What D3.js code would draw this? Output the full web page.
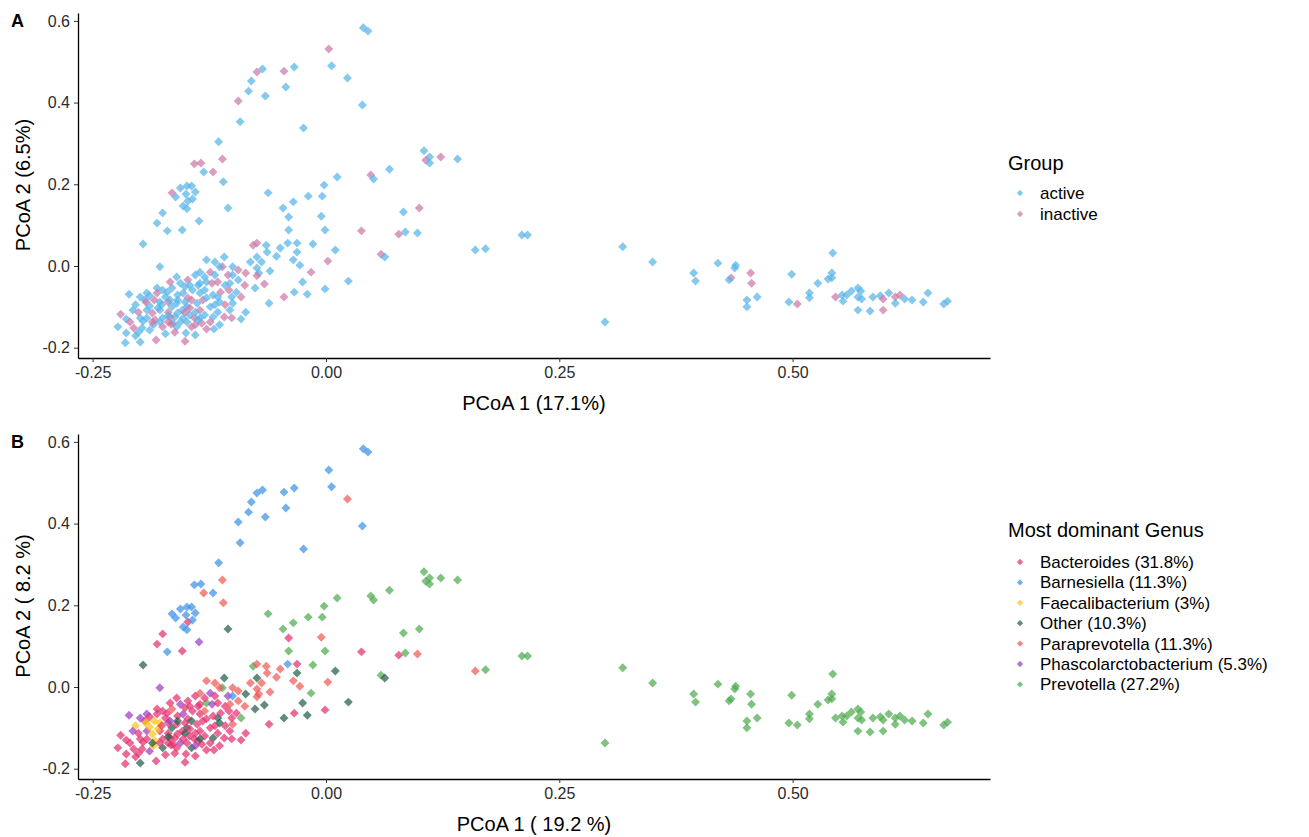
<!DOCTYPE html>
<html>
<head>
<meta charset="utf-8">
<script src="https://cdn.jsdelivr.net/npm/d3@7"></script>
<style>
body { margin: 0; background: #fff; }
svg { font-family: "Liberation Sans", Arial, sans-serif; }
</style>
</head>
<body>
<div id="chart"></div>
<script>
// categories
const groups = ["active", "inactive"];
const groupColors = ["#56B4E9", "#CC79A7"];
const genera = ["Bac", "Bar", "Fae", "Oth", "Par", "Pha", "Pre"];
const genusLabels = ["Bacteroides (31.8%)", "Barnesiella (11.3%)", "Faecalibacterium (3%)", "Other (10.3%)",
    "Paraprevotella (11.3%)", "Phascolarctobacterium (5.3%)", "Prevotella (27.2%)"];
const genusColors = ["#E3306F", "#3D92E8", "#FFC418", "#245E49", "#EE5A55", "#9B3FC4", "#4FAA4F"];

const xTicks = [-0.25, 0, 0.25, 0.5];
const yTicks = [-0.2, 0, 0.2, 0.4, 0.6];

// [PCoA1, PCoA2, group (0 active / 1 inactive), genus]
const samples = [
    [0.040, 0.583, 0, "Bar"], [0.045, 0.575, 0, "Bar"], [0.003, 0.531, 1, "Bar"], [0.006, 0.490, 0, "Bar"],
    [0.023, 0.460, 0, "Par"], [0.039, 0.394, 0, "Bar"], [-0.034, 0.487, 0, "Bar"], [-0.045, 0.477, 1, "Bar"],
    [-0.043, 0.438, 0, "Bar"], [-0.068, 0.482, 0, "Bar"], [-0.074, 0.475, 1, "Bar"], [-0.080, 0.453, 0, "Bar"],
    [-0.083, 0.428, 0, "Bar"], [-0.065, 0.416, 0, "Bar"], [-0.094, 0.404, 1, "Bar"], [-0.092, 0.353, 0, "Bar"],
    [-0.024, 0.338, 0, "Bar"], [-0.115, 0.304, 0, "Bar"], [-0.111, 0.262, 1, "Par"], [-0.141, 0.250, 1, "Bar"],
    [-0.134, 0.252, 1, "Bar"], [-0.131, 0.230, 0, "Par"], [-0.121, 0.230, 1, "Bar"], [-0.110, 0.206, 0, "Par"],
    [-0.165, 0.179, 1, "Bar"], [-0.156, 0.191, 0, "Bar"], [-0.149, 0.196, 0, "Bar"], [-0.144, 0.196, 0, "Bar"],
    [-0.161, 0.169, 0, "Bar"], [-0.150, 0.176, 0, "Bar"], [-0.140, 0.181, 0, "Bar"], [-0.148, 0.159, 0, "Bac"],
    [-0.143, 0.164, 0, "Bar"], [-0.153, 0.147, 0, "Bar"], [-0.149, 0.140, 0, "Bar"], [-0.136, 0.110, 0, "Pha"],
    [-0.175, 0.130, 0, "Bac"], [-0.181, 0.105, 0, "Bac"], [-0.170, 0.086, 0, "Bar"], [-0.154, 0.088, 0, "Bac"],
    [-0.196, 0.054, 0, "Oth"], [-0.105, 0.142, 0, "Oth"],
    [-0.062, 0.179, 0, "Pre"], [-0.046, 0.142, 0, "Pre"], [-0.035, 0.157, 0, "Pre"], [-0.019, 0.171, 0, "Pre"],
    [-0.004, 0.171, 0, "Pre"], [-0.002, 0.198, 0, "Pre"], [0.012, 0.218, 0, "Pre"], [0.048, 0.223, 1, "Pre"],
    [0.051, 0.213, 0, "Pre"], [0.068, 0.237, 0, "Pre"], [-0.040, 0.120, 0, "Bac"], [-0.005, 0.122, 0, "Par"],
    [-0.040, 0.088, 0, "Pre"], [-0.001, 0.088, 0, "Pre"], [0.083, 0.132, 0, "Pre"], [0.100, 0.142, 1, "Pre"],
    [0.038, 0.086, 1, "Bac"], [0.078, 0.078, 1, "Bac"], [0.085, 0.083, 0, "Pre"], [0.098, 0.081, 0, "Par"],
    [0.105, 0.282, 0, "Pre"], [0.111, 0.267, 0, "Pre"], [0.107, 0.259, 1, "Pre"], [0.111, 0.252, 0, "Pre"],
    [0.123, 0.267, 1, "Pre"], [0.141, 0.262, 0, "Pre"],
    [-0.078, 0.051, 1, "Pre"], [-0.074, 0.056, 1, "Par"], [-0.064, 0.051, 0, "Par"], [-0.063, 0.034, 0, "Par"],
    [-0.049, 0.044, 0, "Par"], [-0.053, 0.024, 0, "Par"], [-0.041, 0.056, 0, "Bar"], [-0.031, 0.056, 0, "Bac"],
    [-0.031, 0.034, 0, "Oth"], [-0.014, 0.054, 0, "Pre"], [0.010, 0.039, 0, "Oth"], [-0.035, 0.015, 0, "Par"],
    [-0.028, 0.002, 0, "Par"], [-0.074, 0.022, 0, "Oth"], [0.002, 0.012, 1, "Par"], [0.059, 0.029, 1, "Pre"],
    [0.063, 0.022, 0, "Oth"], [-0.016, -0.015, 1, "Pre"], [-0.074, -0.005, 0, "Par"], [-0.072, -0.017, 0, "Par"],
    [-0.074, -0.024, 1, "Par"], [-0.060, -0.012, 0, "Par"], [-0.086, -0.017, 1, "Oth"], [0.024, -0.037, 0, "Oth"],
    [-0.025, -0.039, 0, "Oth"], [-0.066, -0.044, 1, "Oth"], [-0.076, -0.054, 0, "Oth"], [-0.001, -0.056, 0, "Bac"],
    [-0.045, -0.076, 1, "Oth"], [-0.034, -0.064, 0, "Bac"], [-0.020, -0.069, 0, "Oth"], [-0.061, -0.091, 0, "Bac"],
    [-0.091, -0.076, 1, "Pre"], [-0.100, -0.091, 0, "Par"], [-0.086, -0.113, 0, "Bac"], [-0.091, -0.130, 0, "Bac"],
    [-0.101, -0.127, 1, "Bac"], [-0.109, -0.125, 1, "Bac"], [-0.121, -0.125, 0, "Oth"], [-0.120, -0.154, 0, "Bac"],
    [-0.128, -0.154, 1, "Bac"], [-0.128, 0.015, 0, "Par"], [-0.109, 0.022, 0, "Oth"], [-0.100, -0.002, 0, "Par"],
    [-0.111, -0.002, 1, "Pre"], [-0.124, -0.015, 1, "Pha"], [-0.105, -0.022, 1, "Pha"], [-0.100, -0.022, 0, "Bar"],
    [-0.178, -0.002, 0, "Pha"], [-0.211, -0.069, 0, "Pha"],
    [-0.223, -0.149, 0, "Bac"], [-0.220, -0.118, 1, "Bac"], [-0.214, -0.130, 0, "Bac"], [-0.214, -0.164, 0, "Bac"],
    [-0.215, -0.188, 0, "Bac"], [-0.199, -0.186, 0, "Oth"], [-0.182, -0.181, 1, "Bac"], [-0.151, -0.184, 1, "Bac"],
    [-0.150, -0.164, 0, "Bac"], [-0.206, -0.152, 1, "Bac"], [-0.201, -0.162, 0, "Bac"], [-0.204, -0.095, 0, "Fae"],
    [-0.201, -0.113, 1, "Bac"], [-0.192, -0.066, 0, "Pha"], [-0.181, -0.054, 0, "Bac"], [-0.181, -0.066, 1, "Bac"],
    [-0.170, -0.064, 0, "Bac"], [-0.192, -0.108, 0, "Pha"], [-0.186, -0.115, 1, "Fae"], [-0.192, -0.127, 0, "Bac"],
    [-0.196, -0.135, 0, "Bac"], [-0.183, -0.132, 1, "Fae"], [-0.189, -0.157, 0, "Pha"], [-0.175, -0.127, 0, "Bac"],
    [-0.175, -0.149, 1, "Oth"], [-0.178, -0.108, 0, "Bac"], [-0.184, -0.083, 1, "Fae"], [-0.169, -0.088, 1, "Bac"],
    [-0.165, -0.100, 0, "Oth"], [-0.160, -0.091, 0, "Bac"], [-0.159, -0.071, 0, "Bac"], [-0.153, -0.066, 0, "Pha"],
    [-0.148, -0.078, 1, "Bac"], [-0.144, -0.083, 1, "Oth"], [-0.149, -0.100, 0, "Oth"], [-0.154, -0.108, 0, "Bac"],
    [-0.162, -0.125, 0, "Bac"], [-0.167, -0.125, 1, "Bac"], [-0.164, -0.140, 0, "Bac"], [-0.156, -0.137, 0, "Pha"],
    [-0.160, -0.149, 0, "Bac"], [-0.146, -0.120, 0, "Bac"], [-0.151, -0.113, 1, "Oth"], [-0.166, -0.142, 1, "Bac"],
    [-0.140, -0.022, 0, "Bac"], [-0.148, -0.034, 1, "Bac"], [-0.160, -0.027, 0, "Bac"], [-0.156, -0.042, 0, "Pha"],
    [-0.151, -0.051, 0, "Bac"], [-0.135, -0.042, 0, "Bac"], [-0.128, -0.039, 0, "Pre"], [-0.122, -0.042, 1, "Pha"],
    [-0.119, -0.022, 0, "Bac"], [-0.116, -0.039, 1, "Bac"], [-0.114, -0.002, 0, "Par"], [-0.135, -0.066, 0, "Bac"],
    [-0.138, -0.091, 0, "Bac"], [-0.132, -0.083, 1, "Bac"], [-0.128, -0.078, 0, "Bac"], [-0.135, -0.108, 1, "Bac"],
    [-0.124, -0.100, 0, "Bac"], [-0.119, -0.095, 0, "Bac"], [-0.113, -0.064, 1, "Bac"], [-0.116, -0.076, 0, "Oth"],
    [-0.101, -0.076, 0, "Bac"], [-0.133, -0.140, 1, "Bac"], [-0.141, -0.127, 1, "Bac"], [-0.149, -0.137, 0, "Bac"],
    [-0.144, -0.149, 1, "Oth"], [-0.172, -0.076, 0, "Bac"], [-0.165, -0.054, 0, "Par"], [-0.143, -0.059, 0, "Bac"],
    [-0.130, -0.059, 0, "Par"], [-0.121, -0.071, 0, "Bac"], [-0.108, -0.047, 0, "Bac"], [-0.151, -0.088, 0, "Bac"],
    [-0.178, -0.137, 0, "Bac"], [-0.199, -0.127, 0, "Bac"], [-0.207, -0.108, 0, "Pha"], [-0.194, -0.083, 0, "Bac"],
    [-0.189, -0.098, 0, "Fae"], [-0.180, -0.103, 0, "Fae"], [-0.193, -0.088, 1, "Fae"], [-0.185, -0.144, 0, "Fae"],
    [-0.178, -0.088, 0, "Fae"],
    [-0.189, -0.073, 0, "Bac"], [-0.176, -0.095, 0, "Bac"], [-0.169, -0.113, 1, "Bac"], [-0.159, -0.115, 0, "Bac"],
    [-0.153, -0.127, 0, "Bac"], [-0.146, -0.103, 1, "Bac"], [-0.140, -0.113, 0, "Bac"], [-0.137, -0.132, 0, "Bac"],
    [-0.130, -0.120, 0, "Bac"], [-0.124, -0.137, 1, "Bac"], [-0.116, -0.113, 0, "Bac"], [-0.108, -0.095, 1, "Bac"],
    [-0.103, -0.108, 0, "Bac"], [-0.096, -0.064, 0, "Bac"], [-0.104, -0.059, 1, "Bac"], [-0.137, -0.047, 0, "Bac"],
    [-0.130, -0.027, 0, "Bac"], [-0.146, -0.047, 0, "Bac"], [-0.167, -0.039, 1, "Bac"], [-0.175, -0.059, 0, "Bac"],
    [-0.197, -0.152, 0, "Bac"], [-0.210, -0.137, 1, "Bac"], [-0.204, -0.171, 0, "Bac"], [-0.172, -0.166, 0, "Bac"],
    [-0.162, -0.162, 1, "Bac"], [-0.140, -0.169, 0, "Bac"], [-0.114, -0.144, 0, "Bac"], [-0.169, -0.137, 1, "Bac"],
    [-0.119, 0.010, 0, "Par"], [-0.094, -0.034, 0, "Par"], [-0.087, -0.047, 1, "Par"], [-0.081, 0.010, 0, "Par"],
    [-0.135, -0.015, 0, "Par"], [-0.094, -0.010, 1, "Par"], [-0.069, 0.010, 0, "Par"], [-0.103, -0.042, 0, "Par"],
    [-0.169, -0.122, 0, "Oth"], [-0.159, -0.083, 0, "Oth"], [-0.135, -0.127, 0, "Oth"], [-0.114, -0.088, 0, "Oth"],
    [-0.186, -0.137, 1, "Oth"], [-0.167, -0.083, 0, "Pha"], [-0.140, -0.144, 1, "Pha"], [-0.199, -0.076, 0, "Pha"],
    [0.160, 0.039, 0, "Par"], [0.171, 0.042, 0, "Pre"], [0.210, 0.076, 0, "Pre"], [0.216, 0.076, 0, "Pre"],
    [0.318, 0.047, 0, "Pre"], [0.350, 0.010, 0, "Pre"], [0.394, -0.017, 0, "Pre"], [0.396, -0.037, 0, "Pre"],
    [0.299, -0.137, 0, "Pre"], [0.420, 0.007, 0, "Pre"], [0.439, 0.002, 0, "Pre"], [0.438, -0.005, 0, "Pre"],
    [0.434, -0.029, 1, "Pre"], [0.432, -0.034, 0, "Pre"], [0.455, -0.017, 1, "Pre"], [0.456, -0.042, 1, "Pre"],
    [0.451, -0.083, 0, "Pre"], [0.451, -0.100, 0, "Pre"], [0.462, -0.076, 0, "Pre"], [0.499, -0.020, 0, "Pre"],
    [0.496, -0.088, 0, "Pre"], [0.505, -0.093, 1, "Pre"], [0.518, -0.066, 0, "Pre"], [0.518, -0.078, 0, "Pre"],
    [0.527, -0.042, 0, "Pre"], [0.543, 0.032, 0, "Pre"], [0.542, -0.017, 0, "Pre"], [0.538, -0.032, 0, "Pre"],
    [0.542, -0.029, 0, "Pre"], [0.546, -0.076, 1, "Pre"], [0.553, -0.071, 0, "Pre"], [0.554, -0.086, 0, "Pre"],
    [0.558, -0.071, 0, "Pre"], [0.563, -0.061, 0, "Pre"], [0.570, -0.054, 0, "Pre"], [0.573, -0.061, 0, "Pre"],
    [0.570, -0.076, 0, "Pre"], [0.574, -0.081, 0, "Pre"], [0.570, -0.108, 0, "Pre"], [0.583, -0.110, 0, "Pre"],
    [0.597, -0.108, 1, "Pre"], [0.586, -0.076, 0, "Pre"], [0.594, -0.073, 0, "Pre"], [0.597, -0.081, 1, "Pre"],
    [0.603, -0.066, 0, "Pre"], [0.610, -0.076, 1, "Pre"], [0.615, -0.071, 1, "Pre"], [0.610, -0.091, 0, "Pre"],
    [0.620, -0.081, 0, "Pre"], [0.628, -0.083, 0, "Pre"], [0.640, -0.088, 0, "Pre"], [0.645, -0.066, 0, "Pre"],
    [0.662, -0.093, 0, "Pre"], [0.666, -0.086, 0, "Pre"]
];

const width = 1309;
const height = 837;

const svg = d3.select("#chart")
    .append("svg")
    .attr("width", width)
    .attr("height", height);

const x = d3.scaleLinear()
    .domain([-0.2657, 0.7115])
    .range([78, 990]);

const y = d3.scaleLinear()
    .domain([-0.2252, 0.6193])
    .range([345, 0]);

const diamond = d3.symbol().type(d3.symbolSquare).size(40);
const keyDiamond = d3.symbol().type(d3.symbolSquare).size(20);

function drawPanel(top, tag, xTitle, yTitle, colorOf, legendTitle, legendLabels, legendColors) {
    const g = svg.append("g").attr("transform", "translate(0," + top + ")");

    g.append("g")
        .attr("transform", "translate(0,345)")
        .call(d3.axisBottom(x).tickValues(xTicks).tickSize(4).tickSizeOuter(0).tickPadding(5)
            .tickFormat(d => d.toFixed(2)))
        .call(a => a.selectAll("text").attr("font-size", 16).attr("fill", "#2b2b2b").attr("font-family", null));

    g.append("g")
        .attr("transform", "translate(78,0)")
        .call(d3.axisLeft(y).tickValues(yTicks).tickSize(4).tickSizeOuter(0).tickPadding(4)
            .tickFormat(d => d.toFixed(1)))
        .call(a => a.selectAll("text").attr("font-size", 16).attr("fill", "#2b2b2b").attr("font-family", null));

    g.selectAll(".domain").attr("stroke", "#000").attr("stroke-width", 1.3);
    g.selectAll(".tick line").attr("stroke", "#333");

    g.selectAll(".pt")
        .data(samples)
        .enter()
        .append("path")
        .attr("class", "pt")
        .attr("d", diamond)
        .attr("transform", d => "translate(" + x(d[0]) + "," + y(d[1]) + ") rotate(45)")
        .attr("fill", colorOf)
        .attr("fill-opacity", 0.72);

    g.append("text")
        .attr("x", 11).attr("y", 14)
        .attr("font-size", 18).attr("font-weight", "bold")
        .text(tag);

    g.append("text")
        .attr("x", 534).attr("y", 397)
        .attr("text-anchor", "middle")
        .attr("font-size", 20)
        .text(xTitle);

    g.append("text")
        .attr("transform", "translate(30,172) rotate(-90)")
        .attr("text-anchor", "middle")
        .attr("font-size", 20)
        .text(yTitle);

    const lg = g.append("g").attr("transform", "translate(1008,0)");
    lg.append("text")
        .attr("x", 0).attr("y", legendTitle.y)
        .attr("font-size", 20)
        .text(legendTitle.text);

    const items = lg.selectAll(".key")
        .data(legendLabels)
        .enter()
        .append("g")
        .attr("class", "key")
        .attr("transform", (d, i) => "translate(0," + (legendTitle.y + legendTitle.gap + i * legendTitle.step) + ")");
    items.append("path")
        .attr("d", keyDiamond)
        .attr("transform", "translate(12,-3) rotate(45)")
        .attr("fill", (d, i) => legendColors[i])
        .attr("fill-opacity", 0.72);
    items.append("text")
        .attr("x", 32).attr("y", 3)
        .attr("font-size", 17)
        .text(d => d);
}

drawPanel(13, "A", "PCoA 1 (17.1%)", "PCoA 2 (6.5%)",
    d => groupColors[d[2]],
    { text: "Group", y: 157, gap: 26, step: 21 }, groups, groupColors);

drawPanel(434, "B", "PCoA 1 ( 19.2 %)", "PCoA 2 ( 8.2 %)",
    d => genusColors[genera.indexOf(d[3])],
    { text: "Most dominant Genus", y: 103, gap: 28, step: 20.4 }, genusLabels, genusColors);
</script>
</body>
</html>
